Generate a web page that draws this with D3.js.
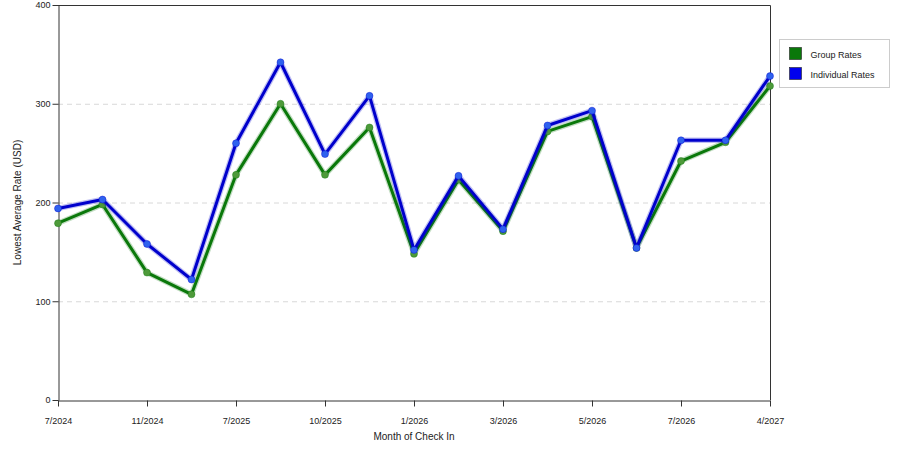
<!DOCTYPE html>
<html>
<head>
<meta charset="utf-8">
<script src="https://cdn.jsdelivr.net/npm/d3@7"></script>
<style>
  body { margin: 0; background: #fff; }
  svg text { font-family: "Liberation Sans", Arial, sans-serif; fill: #222; }
</style>
</head>
<body>
<div id="chart"></div>
<script>
// month labels, only every other one is printed on the axis
var months = ["7/2024", "", "11/2024", "", "7/2025", "", "10/2025", "", "1/2026",
              "", "3/2026", "", "5/2026", "", "7/2026", "", "4/2027"]
var groupRates = [179, 198, 129, 107, 228, 300, 228, 276, 148, 223, 171, 272, 287, 154, 242, 261, 318]
var individualRates = [194, 203, 158, 122, 260, 342, 249, 308, 152, 227, 173, 278, 293, 154, 263, 263, 328]
var yTicks = [0, 100, 200, 300, 400]

var width = 900, height = 450
var margin = {left: 58, right: 130, top: 5, bottom: 50}

var svg = d3.select('#chart').append('svg')
  .attr('width', width).attr('height', height)

// x is ordinal by index so unlabeled months still get a slot
var x = d3.scalePoint()
  .domain(d3.range(months.length))
  .range([margin.left, width - margin.right])

var y = d3.scaleLinear()
  .domain([0, 400])
  .range([height - margin.bottom, margin.top])

// grid lines
svg.append('g').selectAll('line')
  .data(yTicks.filter(d => d > 0 && d < 400))
  .enter().append('line')
  .attr('x1', margin.left).attr('x2', width - margin.right)
  .attr('y1', d => y(d) + 0.5).attr('y2', d => y(d) + 0.5)
  .attr('stroke', '#d8d8d8')
  .attr('stroke-dasharray', '5,4')

// frame (top + right)
svg.append('path')
  .attr('d', 'M' + margin.left + ',' + (margin.top + 0.5) + 'H' + (width - margin.right + 0.5) + 'V' + y(0))
  .attr('fill', 'none').attr('stroke', '#333')

// axes
var xAxis = d3.axisBottom(x)
  .tickFormat(i => months[i])
  .tickSize(6).tickSizeOuter(0)
var gx = svg.append('g')
  .attr('transform', 'translate(0,' + (y(0) + 0.5) + ')')
  .call(xAxis)
gx.selectAll('.tick line').filter(i => months[i] === '').remove()
gx.selectAll('text').attr('font-size', 9).attr('dy', '1.6em').style('fill', '#222')
gx.select('.domain').attr('stroke', '#333')
gx.selectAll('line').attr('stroke', '#333')

var yAxis = d3.axisLeft(y).tickValues(yTicks).tickSize(6).tickSizeOuter(0)
var gy = svg.append('g')
  .attr('transform', 'translate(' + (margin.left + 0.5) + ',0)')
  .call(yAxis)
gy.selectAll('text').attr('font-size', 9).attr('x', -8).style('fill', '#222')
gy.select('.domain').attr('stroke', '#333')
gy.selectAll('line').attr('stroke', '#333')

// axis titles
svg.append('text')
  .attr('x', (margin.left + width - margin.right) / 2)
  .attr('y', 440)
  .attr('text-anchor', 'middle')
  .attr('font-size', 10)
  .text('Month of Check In')

svg.append('text')
  .attr('transform', 'translate(21,' + ((margin.top + y(0)) / 2) + ') rotate(-90)')
  .attr('text-anchor', 'middle')
  .attr('font-size', 10)
  .text('Lowest Average Rate (USD)')

// series
var series = [
  {name: 'Group Rates', values: groupRates, color: '#0a780a', dot: '#4e9a3a'},
  {name: 'Individual Rates', values: individualRates, color: '#0000cc', dot: '#2f62ee'}
]

var line = d3.line()
  .x((d, i) => x(i))
  .y(d => y(d))

series.forEach(s => {
  var g = svg.append('g')
  // soft halo under the line
  g.append('path').datum(s.values)
    .attr('d', line).attr('fill', 'none')
    .attr('stroke', s.color).attr('stroke-opacity', 0.25)
    .attr('stroke-width', 5.5).attr('stroke-linejoin', 'round')
  g.append('path').datum(s.values)
    .attr('d', line).attr('fill', 'none')
    .attr('stroke', s.color)
    .attr('stroke-width', 3).attr('stroke-linejoin', 'round')
  g.selectAll('circle')
    .data(s.values)
    .enter().append('circle')
    .attr('cx', (d, i) => x(i))
    .attr('cy', d => y(d))
    .attr('r', 3.5)
    .attr('fill', s.dot)
    .attr('stroke', s.color).attr('stroke-opacity', 0.4)
})

// legend
var legend = svg.append('g').attr('transform', 'translate(779.5,39.5)')
legend.append('rect')
  .attr('width', 110).attr('height', 48)
  .attr('fill', '#fff').attr('stroke', '#ccc')
var items = legend.selectAll('g.item')
  .data(series)
  .enter().append('g')
  .attr('transform', (d, i) => 'translate(10,' + (8 + i * 20) + ')')
items.append('rect')
  .attr('width', 12).attr('height', 12)
  .attr('fill', d => d.color === '#0000cc' ? '#0000ee' : '#0a780a')
  .attr('stroke', '#222').attr('stroke-width', 0.6)
items.append('text')
  .attr('x', 21).attr('y', 10)
  .attr('font-size', 9)
  .text(d => d.name)
</script>
</body>
</html>
